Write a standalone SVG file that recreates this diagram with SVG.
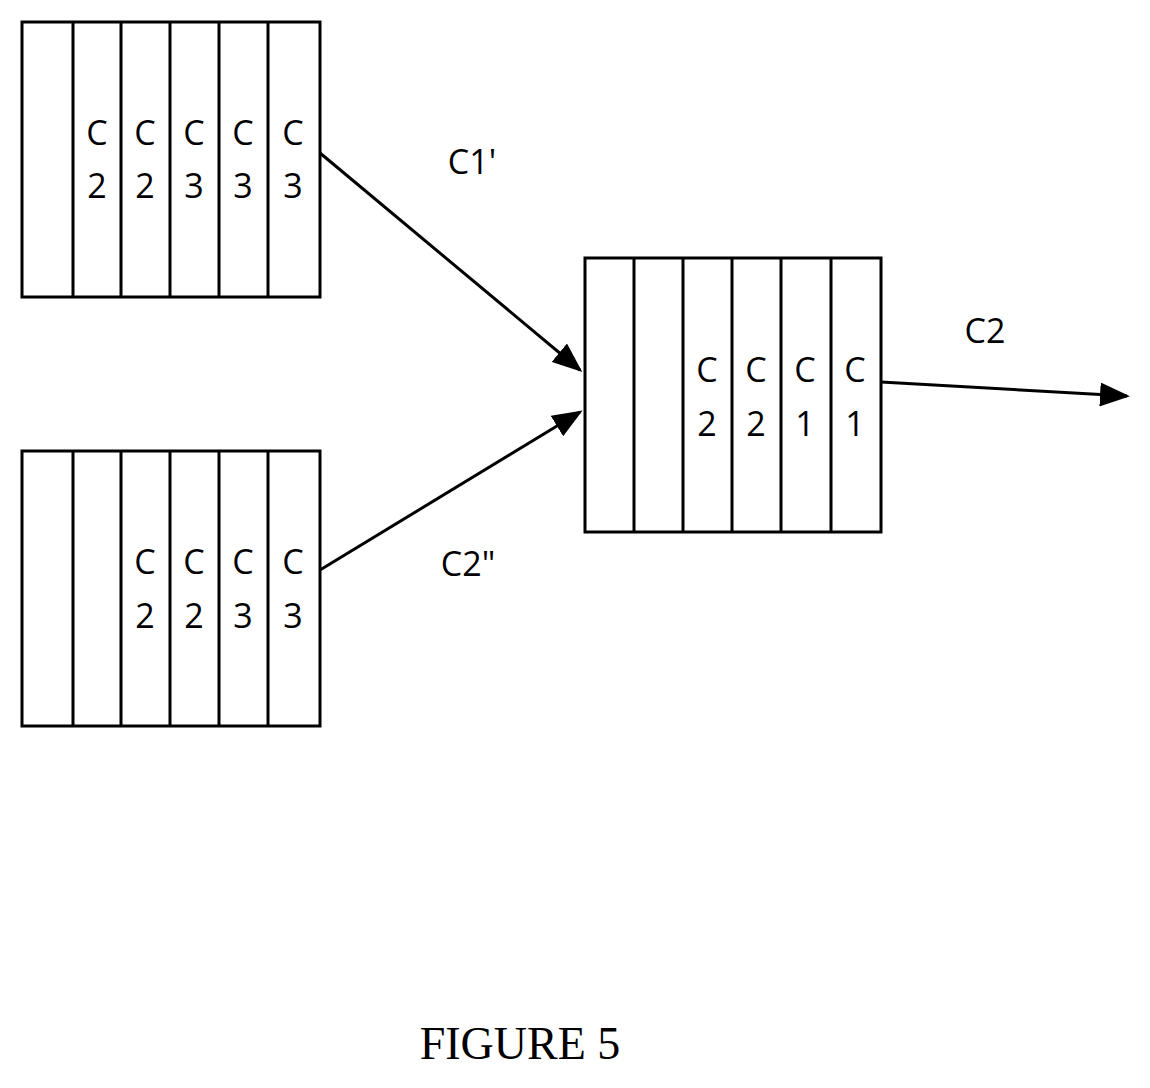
<svg xmlns="http://www.w3.org/2000/svg" width="1150" height="1088" viewBox="0 0 1150 1088">
<style>
.b{fill:none;stroke:#000;stroke-width:3}
.t{font-family:"Open Sans","Liberation Sans",sans-serif;font-size:34px;text-anchor:middle;fill:#000}
.c{stroke:#000;stroke-width:3;fill:none;marker-end:url(#a)}
</style>
<defs><marker id="a" markerWidth="10" markerHeight="8" refX="9" refY="4" orient="auto" markerUnits="strokeWidth"><path d="M0,0L10,4L0,8z" fill="#000"/></marker></defs>
<rect width="1150" height="1088" fill="#fff"/>
<g id="box1">
<rect class="b" x="22" y="22" width="298" height="275"/>
<path class="b" d="M73 22V297M121 22V297M170 22V297M219 22V297M268 22V297"/>
<g class="t"><text x="97" y="145">C</text><text x="97" y="198">2</text><text x="145" y="145">C</text><text x="145" y="198">2</text><text x="194" y="145">C</text><text x="194" y="198">3</text><text x="243" y="145">C</text><text x="243" y="198">3</text><text x="293" y="145">C</text><text x="293" y="198">3</text></g>
</g>
<g id="box2">
<rect class="b" x="22" y="451" width="298" height="275"/>
<path class="b" d="M73 451V726M121 451V726M170 451V726M219 451V726M268 451V726"/>
<g class="t"><text x="145" y="574">C</text><text x="145" y="628">2</text><text x="194" y="574">C</text><text x="194" y="628">2</text><text x="243" y="574">C</text><text x="243" y="628">3</text><text x="293" y="574">C</text><text x="293" y="628">3</text></g>
</g>
<g id="box3">
<rect class="b" x="585" y="258" width="296" height="274"/>
<path class="b" d="M634 258V532M683 258V532M732 258V532M781 258V532M831 258V532"/>
<g class="t"><text x="707" y="382">C</text><text x="707" y="436">2</text><text x="756" y="382">C</text><text x="756" y="436">2</text><text x="805" y="382">C</text><text x="805" y="436">1</text><text x="855" y="382">C</text><text x="855" y="436">1</text></g>
</g>
<g id="connectors">
<path class="c" d="M320 153L580 370"/>
<path class="c" d="M320 570L580 412"/>
<path class="c" d="M881 382L1127 396"/>
</g>
<g class="t"><text x="472" y="174">C1'</text><text x="468" y="576">C2"</text><text x="985" y="343">C2</text></g>
<text x="520" y="1059" style="font-family:'Liberation Serif',serif;font-size:46px;text-anchor:middle">FIGURE 5</text>
</svg>
